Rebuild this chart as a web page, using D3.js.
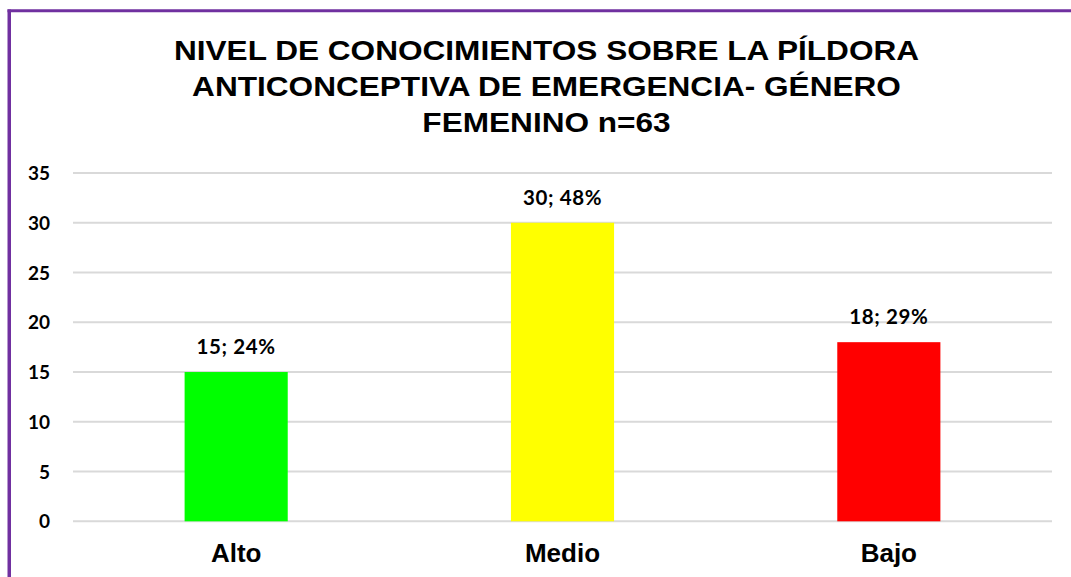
<!DOCTYPE html>
<html><head><meta charset="utf-8">
<script src="https://cdn.jsdelivr.net/npm/d3@7"></script>
<style>body{margin:0;background:#fff}svg{display:block}</style>
</head><body>
<script>
const categories = ["Alto", "Medio", "Bajo"];
const values = [15, 30, 18];
const labels = ["15; 24%", "30; 48%", "18; 29%"];
const colors = ["#00ff00", "#ffff00", "#ff0000"];
const yTicks = [0, 5, 10, 15, 20, 25, 30, 35];
const titleLines = ["NIVEL DE CONOCIMIENTOS SOBRE LA PÍLDORA", "ANTICONCEPTIVA DE EMERGENCIA- GÉNERO", "FEMENINO n=63"];

const W = 1071, H = 577;
const svg = d3.select("body").append("svg").attr("width", W).attr("height", H);

// border (left & top visible)
svg.append("line").attr("x1", 9.25).attr("x2", 9.25).attr("y1", 9.5).attr("y2", H).attr("stroke", "#7030a0").attr("stroke-width", 3.5);
svg.append("line").attr("x1", 7.5).attr("x2", W).attr("y1", 10.75).attr("y2", 10.75).attr("stroke", "#7030a0").attr("stroke-width", 3);

const x0 = 73, x1 = 1052;
const x = d3.scaleBand().domain(categories).range([x0, x1]).paddingInner(0.684).paddingOuter(0.342);
const y = d3.scaleLinear().domain([0, 35]).range([521.3, 173]);

// title (horizontally stretched like the reference)
svg.append("g").selectAll("text").data(titleLines).join("text")
  .attr("transform", (d, i) => `translate(546.5,${59.5 + i * 36}) scale(1.17,1)`)
  .attr("text-anchor", "middle")
  .attr("font-family", "Liberation Sans, Arial, sans-serif")
  .attr("font-weight", "bold").attr("font-size", 27).attr("fill", "#000")
  .text(d => d);

// gridlines
svg.append("g").selectAll("line").data(yTicks).join("line")
  .attr("x1", x0).attr("x2", x1)
  .attr("y1", d => y(d)).attr("y2", d => y(d))
  .attr("stroke", "#d9d9d9").attr("stroke-width", 2);

// y axis labels
const yAxis = d3.axisLeft(y).tickValues(yTicks).tickSize(0).tickPadding(0);
const ga = svg.append("g").attr("transform", "translate(50,0)").call(yAxis);
ga.select(".domain").remove();
ga.selectAll("text").attr("font-family", "Lato, sans-serif").attr("font-weight", "bold")
  .attr("font-size", 19).attr("fill", "#000").attr("dy", "0.35em");

// bars
svg.append("g").selectAll("rect").data(values).join("rect")
  .attr("x", (d, i) => x(categories[i])).attr("width", x.bandwidth())
  .attr("y", d => y(d)).attr("height", d => y(0) - y(d))
  .attr("fill", (d, i) => colors[i]);

// data labels
svg.append("g").selectAll("text").data(values).join("text")
  .attr("x", (d, i) => x(categories[i]) + x.bandwidth() / 2)
  .attr("y", d => y(d) - 18)
  .attr("text-anchor", "middle")
  .attr("font-family", "Lato, sans-serif").attr("font-weight", "bold")
  .attr("font-size", 20.5).attr("letter-spacing", 0.6).attr("fill", "#000")
  .text((d, i) => labels[i]);

// x axis labels
const xAxis = d3.axisBottom(x).tickSize(0).tickPadding(0);
const gx = svg.append("g").attr("transform", "translate(0,562)").call(xAxis);
gx.select(".domain").remove();
gx.selectAll("text").attr("font-family", "Liberation Sans, Arial, sans-serif").attr("font-weight", "bold")
  .attr("font-size", 26).attr("fill", "#000").attr("dy", 0);
</script>
</body></html>
